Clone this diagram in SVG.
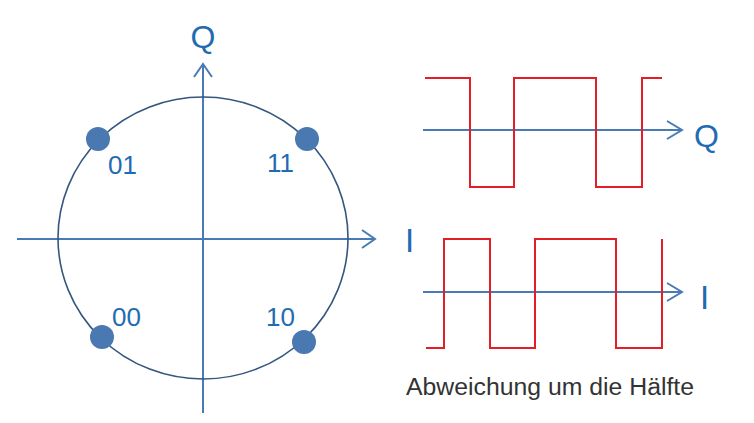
<svg xmlns="http://www.w3.org/2000/svg" width="754" height="423" viewBox="0 0 754 423">
<style>
.axis{stroke:#4a7ab5;stroke-width:2;fill:none}
.circ{stroke:#34567f;stroke-width:1.6;fill:none}
.dot{fill:#4a78b0}
.lbl{font-family:"Liberation Sans",Arial,sans-serif;fill:#1f6cb3}
.wave{stroke:#e41e26;stroke-width:2;fill:none}
.cap{font-family:"Liberation Sans",Arial,sans-serif;fill:#333333;font-size:23px}
</style>
<rect width="754" height="423" fill="#ffffff"/>
<g id="connectors">
<line class="axis" x1="203" y1="413" x2="203" y2="64"/>
<polyline class="axis" points="194,77 203,64 212,77"/>
<line class="axis" x1="17" y1="239" x2="375" y2="239"/>
<polyline class="axis" points="362,230 375,239 362,248"/>
<line class="axis" x1="423" y1="130" x2="682" y2="130"/>
<polyline class="axis" points="667,121 682,130 667,139"/>
<line class="axis" x1="423" y1="292" x2="682" y2="292"/>
<polyline class="axis" points="667,283 682,292 667,301"/>
</g>
<g id="circle">
<ellipse class="circ" cx="203" cy="238" rx="145" ry="141"/>
</g>
<g id="label-Q-top"><text class="lbl" x="203" y="48" font-size="32" text-anchor="middle">Q</text></g>
<g id="label-I-left"><text class="lbl" x="405" y="252" font-size="33">I</text></g>
<g id="point-01"><circle class="dot" cx="98" cy="139" r="12"/><text class="lbl" x="108" y="174" font-size="26">01</text></g>
<g id="point-11"><circle class="dot" cx="307" cy="139" r="12"/><text class="lbl" x="267" y="172" font-size="26">11</text></g>
<g id="point-00"><circle class="dot" cx="102" cy="337" r="12"/><text class="lbl" x="112" y="326" font-size="26">00</text></g>
<g id="point-10"><circle class="dot" cx="304" cy="342" r="12"/><text class="lbl" x="266" y="326" font-size="26">10</text></g>
<g id="wave-Q">
<polyline class="wave" points="425,78 470,78 470,187 514,187 514,78 596,78 596,187 642,187 642,78 662,78"/>
<text class="lbl" x="694" y="147" font-size="32">Q</text>
</g>
<g id="wave-I">
<polyline class="wave" points="426,348 444,348 444,239 490,239 490,348 535,348 535,239 616,239 616,348 662,348 662,239"/>
<text class="lbl" x="700" y="309" font-size="33">I</text>
</g>
<g id="caption"><text class="cap" x="406" y="395" textLength="288" lengthAdjust="spacingAndGlyphs">Abweichung um die Hälfte</text></g>
</svg>
